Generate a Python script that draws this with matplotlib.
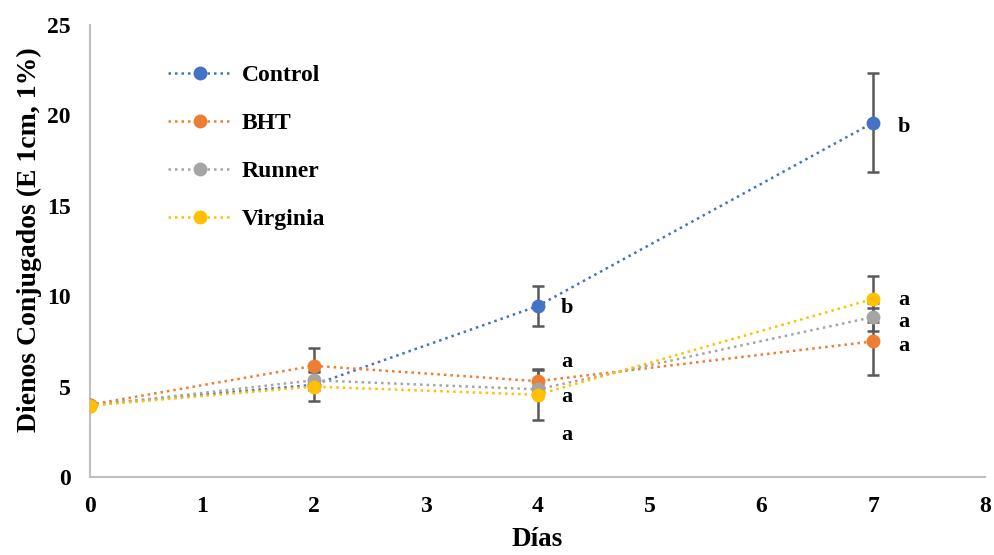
import matplotlib
matplotlib.use("Agg")
import matplotlib.pyplot as plt

days = [0, 2, 4, 7]
series_names = ["Control", "BHT", "Runner", "Virginia"]
control = [4.0, 5.1, 9.45, 19.6]
bht = [4.0, 6.15, 5.3, 7.5]
runner = [3.95, 5.35, 4.85, 8.85]
virginia = [3.95, 5.0, 4.55, 9.85]
control_err = [0.1, 0.3, 1.1, 2.75]
bht_err = [0.1, 1.0, 0.6, 1.85]
runner_err = [0.1, 0.5, 0.2, 0.75]
virginia_err = [0.1, 0.8, 1.4, 1.25]
colors = ["#4472C4", "#ED7D31", "#A5A5A5", "#FFC000"]

# letter annotations (x, y, text)
ann_x = [4.26, 4.26, 4.26, 4.26, 7.27, 7.27, 7.27, 7.27]
ann_y = [9.35, 6.35, 4.4, 2.35, 19.35, 9.8, 8.6, 7.25]
ann_txt = ["b", "a", "a", "a", "b", "a", "a", "a"]

plt.rcParams['font.family'] = ['Liberation Serif', 'DejaVu Serif']
plt.rcParams['font.weight'] = 'bold'

fig = plt.figure(figsize=(9.95, 5.55), dpi=100)
ax = fig.add_axes([0.0905, 0.1405, 0.8995, 0.8145])

values = [control, bht, runner, virginia]
errs = [control_err, bht_err, runner_err, virginia_err]
for name, v, e, c in zip(series_names, values, errs, colors):
    ax.errorbar(days, v, yerr=e, fmt='none', ecolor='#595959', elinewidth=1.8,
                capsize=4.5, capthick=1.8, zorder=2)
for name, v, c in zip(series_names, values, colors):
    ax.plot(days, v, linestyle=(0, (1, 1.6)), linewidth=1.8, color=c,
            marker='o', markersize=10, markeredgewidth=0, label=name, zorder=3)

for x, y, t in zip(ann_x, ann_y, ann_txt):
    ax.text(x, y, t, fontsize=16, fontweight='bold', ha='center', va='center')

ax.set_xlim(0, 8)
ax.set_ylim(0, 25)
ax.set_xticks(range(0, 9))
ax.set_yticks(range(0, 26, 5))
ax.tick_params(axis='x', length=0, labelsize=17, pad=14)
ax.tick_params(axis='y', length=0, labelsize=17, pad=14)
for lbl in ax.get_xticklabels() + ax.get_yticklabels():
    lbl.set_fontweight('bold')
for s in ['top', 'right']:
    ax.spines[s].set_visible(False)
for s in ['left', 'bottom']:
    ax.spines[s].set_color('#BFBFBF')
    ax.spines[s].set_linewidth(1.5)

ax.set_xlabel("Días", fontsize=19.5, fontweight='bold', labelpad=7)
ax.set_ylabel("Dienos Conjugados (E 1cm, 1%)", fontsize=20, fontweight='bold')
ax.yaxis.set_label_coords(-0.054, 0.525)

leg = ax.legend(loc='upper left', bbox_to_anchor=(0.063, 0.96), frameon=False,
                prop={'size': 17, 'weight': 'bold'}, handlelength=2.7,
                labelspacing=1.13, handletextpad=0.45)

fig.savefig("out.png", dpi=100)
